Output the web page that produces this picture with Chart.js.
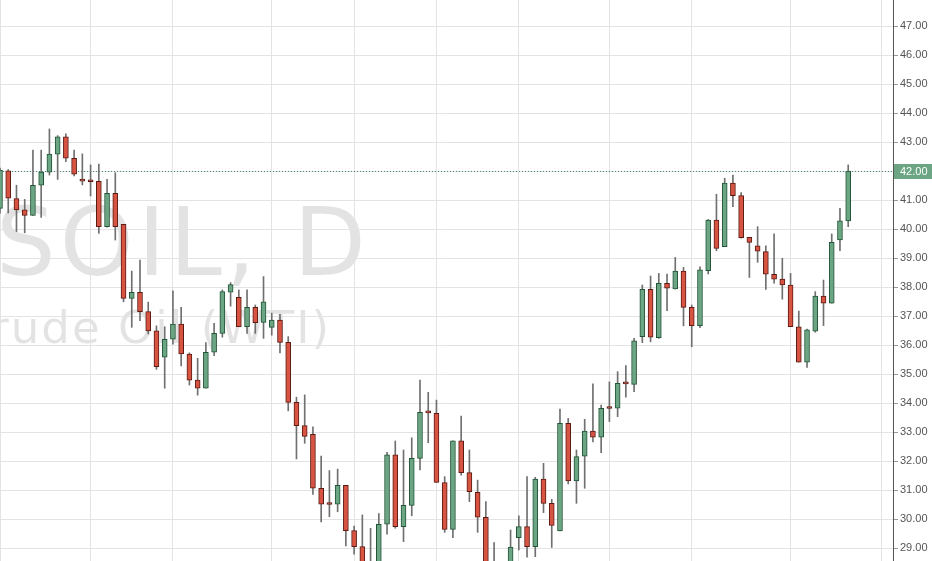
<!DOCTYPE html>
<html>
<head>
<meta charset="utf-8">
<script src="https://cdn.jsdelivr.net/npm/chart.js@4.4.1/dist/chart.umd.min.js"></script>
<style>
  html, body { margin: 0; padding: 0; background: #fff; overflow: hidden; }
  #wrap { width: 932px; height: 561px; position: relative; }
</style>
</head>
<body>
<div id="wrap"><canvas id="chart"></canvas></div>
<script>
// USOIL daily candles (left part is cut by the frame)
const opens = [
  40.71, 42.01, 41.05, 40.66, 40.47, 41.51, 41.96, 42.58, 43.18, 42.44,
  41.69, 41.65, 41.64, 40.08, 41.23, 40.16, 37.61, 37.82, 37.15, 36.49,
  35.58, 36.20, 36.72, 35.69, 34.79, 34.51, 35.75, 36.40, 37.82, 37.64,
  36.63, 37.30, 36.78, 36.61, 36.86, 36.09, 34.02, 33.22, 32.92, 31.06,
  30.52, 30.51, 31.16, 29.60, 29.05, 28.30, 27.50, 29.82, 32.21, 29.74,
  30.47, 32.09, 33.68, 33.64, 31.26, 29.64, 32.70, 31.60, 30.92, 30.06,
  28.10, 27.40, 26.80, 29.36, 29.74, 29.05, 31.38, 30.54, 29.59, 33.30,
  31.31, 32.17, 33.03, 32.82, 33.83, 33.82, 34.68, 34.64, 36.29, 37.92,
  36.25, 38.13, 37.93, 38.55, 37.30, 36.67, 38.56, 40.31, 39.39, 41.58,
  41.15, 39.71, 39.42, 39.22, 38.44, 38.27, 38.07, 36.63, 35.41, 36.48,
  37.69, 37.44, 39.62, 40.28
];
const highs = [
  42.10, 42.05, 41.51, 41.02, 42.72, 42.72, 43.45, 43.22, 43.28, 42.72,
  42.59, 42.21, 42.24, 41.71, 41.94, 40.16, 38.55, 38.93, 37.48, 36.66,
  36.63, 37.87, 37.30, 35.73, 35.54, 36.08, 36.75, 37.90, 38.15, 37.90,
  37.90, 37.38, 38.36, 37.10, 37.06, 36.29, 34.20, 34.28, 33.18, 32.17,
  31.67, 31.72, 31.16, 29.76, 30.14, 29.68, 30.19, 32.30, 32.69, 32.38,
  32.80, 34.79, 34.37, 34.10, 31.46, 32.70, 33.55, 32.38, 31.34, 30.60,
  29.19, 28.30, 29.62, 30.11, 31.46, 31.44, 31.92, 30.68, 33.79, 33.47,
  32.38, 33.44, 34.66, 33.93, 34.73, 35.08, 35.29, 36.23, 38.07, 38.38,
  38.47, 38.45, 39.02, 38.68, 37.38, 38.70, 40.33, 41.20, 41.75, 41.86,
  41.26, 39.71, 40.08, 39.42, 39.83, 38.99, 38.47, 37.17, 36.55, 37.84,
  38.24, 39.83, 40.71, 42.21
];
const lows = [
  40.55, 40.55, 39.91, 39.87, 40.47, 40.40, 41.86, 41.71, 42.32, 41.83,
  41.52, 41.14, 39.85, 40.06, 39.62, 37.49, 36.61, 36.84, 36.38, 35.16,
  34.51, 36.03, 35.28, 34.62, 34.27, 34.51, 35.63, 36.27, 37.34, 36.63,
  36.40, 36.40, 36.23, 36.34, 35.73, 33.73, 32.07, 32.61, 30.85, 29.90,
  30.08, 30.25, 29.07, 28.79, 27.60, 26.70, 27.30, 29.48, 29.68, 29.22,
  30.11, 31.69, 32.63, 31.26, 29.54, 29.36, 31.51, 30.60, 29.54, 27.80,
  27.00, 26.10, 26.20, 28.93, 28.68, 28.70, 30.22, 29.02, 29.59, 31.21,
  30.54, 31.06, 32.66, 32.29, 33.36, 33.53, 34.20, 34.39, 36.08, 36.11,
  36.23, 37.18, 37.93, 36.66, 35.94, 36.60, 38.45, 39.25, 39.39, 40.77,
  39.68, 38.33, 38.85, 37.92, 38.13, 37.58, 36.63, 35.41, 35.23, 36.44,
  36.67, 37.44, 39.25, 40.08
];
const closes = [
  42.03, 41.06, 40.66, 40.47, 41.51, 41.96, 42.58, 43.18, 42.44, 41.89,
  41.65, 41.63, 40.08, 41.23, 40.08, 37.61, 37.82, 37.15, 36.49, 35.25,
  36.20, 36.72, 35.69, 34.79, 34.51, 35.75, 36.40, 37.84, 38.08, 36.63,
  37.30, 36.77, 37.49, 36.86, 36.09, 34.02, 33.22, 32.85, 31.06, 30.51,
  30.50, 31.16, 29.60, 29.05, 27.90, 27.60, 29.82, 32.21, 29.74, 30.47,
  32.09, 33.68, 33.66, 31.26, 29.64, 32.70, 31.60, 30.94, 30.06, 28.10,
  27.40, 26.50, 29.03, 29.74, 29.05, 31.38, 30.54, 29.78, 33.30, 31.31,
  32.15, 33.03, 32.82, 33.82, 33.81, 34.68, 34.66, 36.14, 37.92, 36.27,
  38.13, 37.96, 38.55, 37.30, 36.67, 38.59, 40.31, 39.33, 41.58, 41.15,
  39.70, 39.54, 39.24, 38.44, 38.27, 38.07, 36.63, 35.41, 36.52, 37.69,
  37.44, 39.54, 40.28, 42.00
];
const priceTicks = [29,30,31,32,33,34,35,36,37,38,39,40,41,42,43,44,45,46,47,48];
const dateGridBars = [0, 11, 21, 33, 43, 53, 63, 74, 84, 96, 107]; // vertical date lines
const lastPrice = 42.00;
const symbolText = "USOIL, D";
const nameText = "Crude Oil (WTI)";

const UP = "#6ba583", UP_BORDER = "#225437";
const DOWN = "#d75442", DOWN_BORDER = "#5b1a13";
const GRID = "#e3e3e3";

const isUp = closes.map((c, i) => c >= opens[i]);

const overlay = {
  id: "overlay",
  beforeDraw(chart){
    // faint watermark behind everything
    const ctx = chart.ctx;
    ctx.save();
    ctx.fillStyle = "rgba(0,0,0,0.11)";
    ctx.textAlign = "right";
    ctx.textBaseline = "alphabetic";
    ctx.font = '94px "DejaVu Sans"';
    ctx.letterSpacing = "4px";
    ctx.fillText(symbolText, 370, 275);
    ctx.font = '45px "DejaVu Sans"';
    ctx.letterSpacing = "2px";
    ctx.fillText(nameText, 331, 343);
    ctx.restore();
  },
  beforeDatasetsDraw(chart){
    const {ctx, chartArea, scales} = chart;
    const y = Math.round(scales.y.getPixelForValue(lastPrice)) + 0.5;
    ctx.save();
    ctx.strokeStyle = "#3d8a7c";
    ctx.lineWidth = 1;
    ctx.setLineDash([1, 2]);
    ctx.beginPath();
    ctx.moveTo(chartArea.left, y);
    ctx.lineTo(chartArea.right, y);
    ctx.stroke();
    ctx.restore();
  },
  afterDraw(chart){
    const {ctx, chartArea, scales} = chart;
    // top tick label that the frame cuts in half
    ctx.save();
    ctx.fillStyle = "#555";
    ctx.font = '11px "Liberation Sans", Arial, sans-serif';
    ctx.textBaseline = "middle";
    ctx.textAlign = "left";
    const top = priceTicks[priceTicks.length - 1];
    ctx.fillText(top.toFixed(2), chartArea.right + 7, scales.y.getPixelForValue(top));
    // last price marker on the axis
    const y = Math.round(scales.y.getPixelForValue(lastPrice));
    ctx.fillStyle = UP;
    ctx.fillRect(chartArea.right + 1, y - 7, chart.width - chartArea.right - 1, 15);
    ctx.fillStyle = "#fff";
    ctx.fillText(lastPrice.toFixed(2), chartArea.right + 7, y + 0.5);
    ctx.restore();
  }
};

new Chart(document.getElementById("chart"), {
  type: "bar",
  data: {
    datasets: [
      {
        // wicks
        data: lows.map((l, i) => ({ x: i, y: [l, highs[i]] })),
        backgroundColor: "#707070",
        barThickness: 1,
        grouped: false,
        order: 2
      },
      {
        // bodies
        data: opens.map((o, i) => ({ x: i, y: [o, closes[i]] })),
        backgroundColor: isUp.map(u => u ? UP : DOWN),
        borderColor: isUp.map(u => u ? UP_BORDER : DOWN_BORDER),
        borderWidth: 1,
        borderSkipped: false,
        barThickness: 5,
        minBarLength: 2,
        grouped: false,
        order: 1
      }
    ]
  },
  options: {
    responsive: true,
    maintainAspectRatio: false,
    animation: false,
    layout: { padding: 0 },
    plugins: { legend: { display: false }, tooltip: { enabled: false } },
    scales: {
      x: {
        type: "linear",
        offset: false,
        min: 0,
        max: 108.44,
        afterBuildTicks: s => { s.ticks = dateGridBars.map(v => ({ value: v })); },
        afterFit: s => { s.height = 0; s.paddingLeft = 0; s.paddingRight = 0; },
        ticks: { display: false },
        grid: { color: GRID, drawTicks: false, offset: false },
        border: { display: false }
      },
      y: {
        type: "linear",
        position: "right",
        min: 28.552,
        max: 47.897,
        afterBuildTicks: s => { s.ticks = priceTicks.map(v => ({ value: v })); },
        afterFit: s => { s.width = 39; s.paddingTop = 0; s.paddingBottom = 0; },
        ticks: {
          autoSkip: false,
          padding: 2,
          color: "#555",
          font: { family: '"Liberation Sans", Arial, sans-serif', size: 11 },
          callback: v => Number(v).toFixed(2)
        },
        grid: { color: GRID, tickColor: "#999", tickLength: 5 },
        border: { display: true, color: "#555" }
      }
    }
  },
  plugins: [overlay]
});
</script>
</body>
</html>
